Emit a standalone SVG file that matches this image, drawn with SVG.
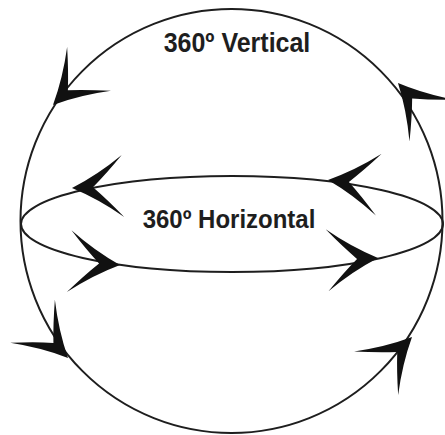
<svg xmlns="http://www.w3.org/2000/svg" width="445" height="435" viewBox="0 0 445 435">
  <style>
    .ring { fill: none; stroke: #1e1e1e; stroke-width: 2; }
    .head { fill: #111; }
    .label { font-family: "Liberation Sans", Arial, sans-serif; font-weight: bold; fill: #1e1e1e; text-anchor: middle; }
  </style>
  <defs>
    <!-- barbed arrowhead, tip at origin, pointing along +x -->
    <path id="barb" d="M0,0 Q-26,-12 -51,-31 Q-35,-13 -21,0 Q-35,13 -51,31 Q-26,12 0,0 Z"/>
  </defs>
  <rect width="445" height="435" fill="#fff"/>

  <g id="connectors">
    <!-- vertical loop -->
    <ellipse id="vertical-loop" class="ring" cx="231.5" cy="221" rx="211" ry="212"/>
    <!-- horizontal loop -->
    <ellipse id="horizontal-loop" class="ring" cx="232" cy="224" rx="211" ry="48" stroke-width="1.8"/>

    <!-- arrowheads on the vertical loop -->
    <use href="#barb" class="head" transform="translate(53,105) rotate(135)"/>
    <use href="#barb" class="head" transform="translate(398,83) rotate(-132.4)"/>
    <use href="#barb" class="head" transform="translate(68,358) rotate(46)"/>
    <use href="#barb" class="head" transform="translate(412,337) rotate(-45.3)"/>

    <!-- arrowheads on the horizontal loop -->
    <use href="#barb" class="head" transform="translate(72,188) rotate(177.7)"/>
    <use href="#barb" class="head" transform="translate(328,180) rotate(185.3)"/>
    <use href="#barb" class="head" transform="translate(120,265) rotate(4.3)"/>
    <use href="#barb" class="head" transform="translate(378,258) rotate(-2.6)"/>
  </g>

  <g id="label-vertical">
    <text class="label" x="237" y="52" font-size="25" transform="translate(237,52) scale(1,1.08) translate(-237,-52)">360º Vertical</text>
  </g>
  <g id="label-horizontal">
    <text class="label" x="229" y="228" font-size="24" transform="translate(229,228) scale(1,1.05) translate(-229,-228)">360º Horizontal</text>
  </g>
</svg>
